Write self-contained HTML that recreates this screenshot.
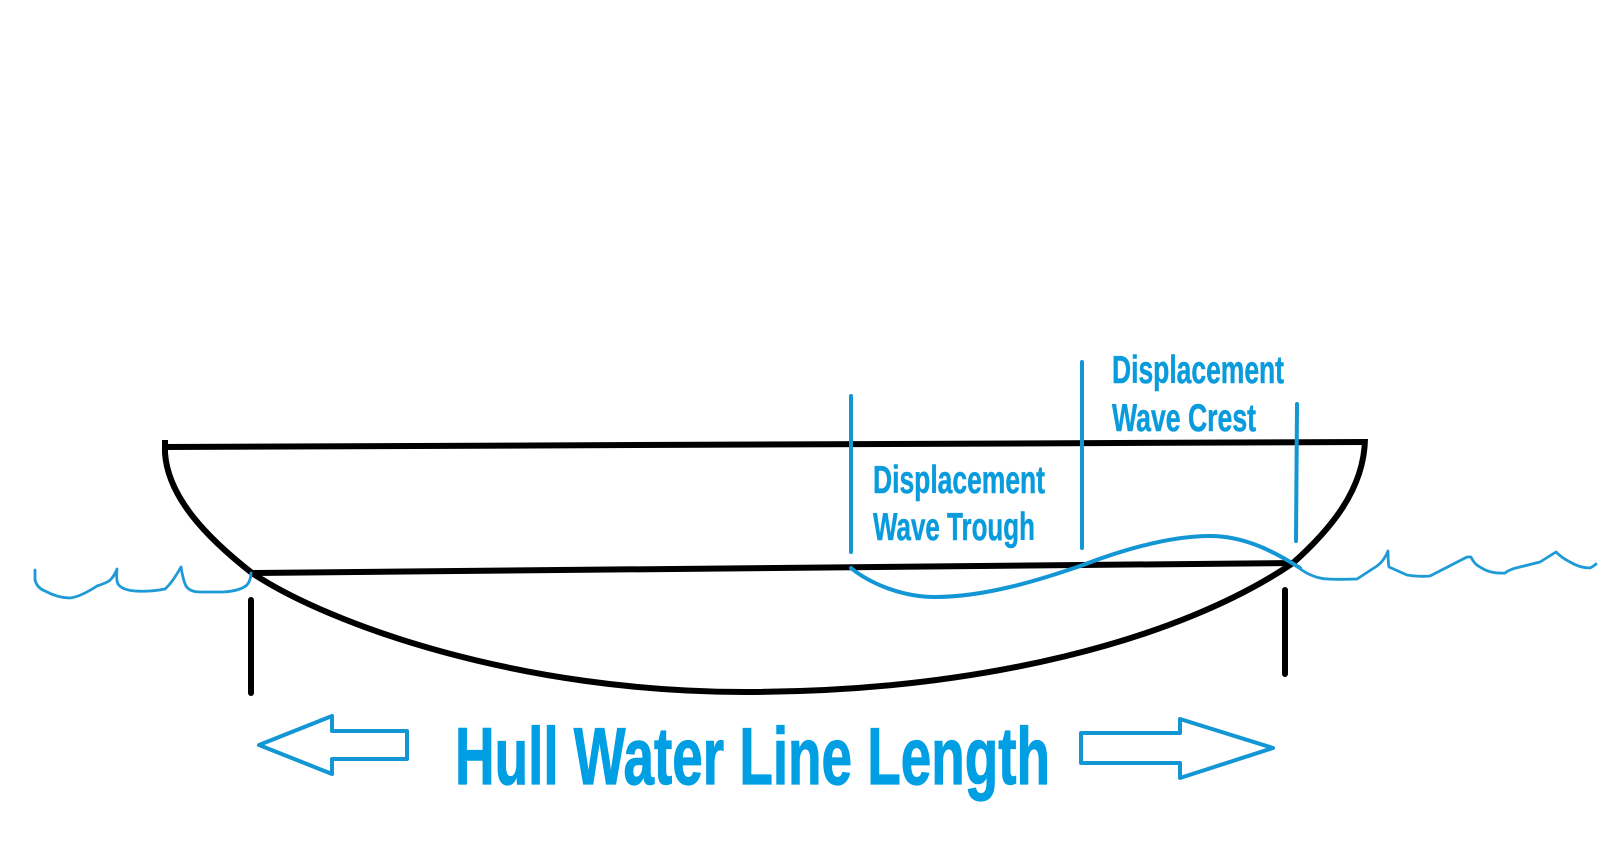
<!DOCTYPE html>
<html>
<head>
<meta charset="utf-8">
<style>
html,body{margin:0;padding:0;background:#fff;width:1600px;height:851px;overflow:hidden}
svg{display:block}
text{font-family:"Liberation Sans Narrow","Liberation Sans",sans-serif;font-weight:700;fill:#0a9bdc;stroke:#0a9bdc;stroke-width:.5}
</style>
</head>
<body>
<svg width="1600" height="851" viewBox="0 0 1600 851" xmlns="http://www.w3.org/2000/svg">
<rect width="1600" height="851" fill="#fff"/>
<g fill="none" stroke="#000" stroke-width="6">
<path d="M165 440 L165 453 C168 497 206 537 252 573 C330 625 520 692 745 692 C980 692 1180 640 1293 563 C1330 530 1364 490 1365 439"/>
<path d="M165 447 L1366 442"/>
<path d="M252 573 L1293 563"/>
<path d="M251 600 L251 693" stroke-linecap="round"/>
<path d="M1285 590 L1285 674" stroke-linecap="round"/>
</g>
<g fill="none" stroke="#1296d4" stroke-width="4" stroke-linecap="round">
<path d="M851 396 L851 552"/>
<path d="M1082 362 L1082 548"/>
<path d="M1297 404 L1296 541"/>
<path d="M851 568 C868 582 900 597 935 597 C985 597 1040 580 1083 565 C1125 549 1170 536 1210 536 C1245 536 1275 552 1300 568"/>
</g>
<g fill="none" stroke="#1e9ad6" stroke-width="2.8" stroke-linejoin="round" stroke-linecap="round">
<path d="M35 570 L35 580 Q37 588 45 591 Q58 598 70 598 Q80 597 97 586 Q106 583 109 581 Q114 577 117 569 Q116 580 118 584 Q122 590 135 591 Q150 592 165 589 Q172 583 181 567 Q183 580 186 586 Q190 592 200 592 L223 592 Q240 591 247 585 Q251 580 251 573"/>
<path d="M1293 563 Q1306 575 1320 578 Q1328 580 1357 579 L1377 566 Q1384 561 1388 551 Q1388 562 1389 567 Q1398 571 1407 575 Q1420 577 1430 576 L1467 557 L1471 557 Q1474 564 1480 567 Q1490 574 1505 573 Q1510 569 1520 567 L1540 562 L1556 552 Q1562 558 1570 562 Q1580 568 1590 568 Q1594 566 1596 564"/>
</g>
<g fill="none" stroke="#1296d4" stroke-width="4" stroke-linejoin="round">
<path d="M259 745 L332 716 L332 731 L407 731 L407 759 L332 759 L332 774 Z"/>
<path d="M1081 733 L1180 733 L1180 719 L1273 748 L1180 778 L1180 763 L1081 763 Z"/>
</g>
<text x="873" y="493" font-size="39" textLength="172" lengthAdjust="spacingAndGlyphs">Displacement</text>
<text x="873" y="540" font-size="39" textLength="162" lengthAdjust="spacingAndGlyphs">Wave Trough</text>
<text x="1112" y="383" font-size="39" textLength="172" lengthAdjust="spacingAndGlyphs">Displacement</text>
<text x="1112" y="431" font-size="39" textLength="144" lengthAdjust="spacingAndGlyphs">Wave Crest</text>
<text x="455" y="784" font-size="81" textLength="595" lengthAdjust="spacingAndGlyphs" style="fill:#009fe3;stroke:#009fe3;stroke-width:1.2">Hull Water Line Length</text>
</svg>
</body>
</html>
